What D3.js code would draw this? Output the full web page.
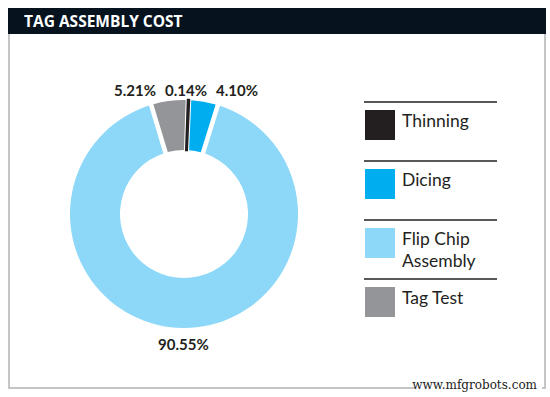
<!DOCTYPE html>
<html lang="en">
<head>
  <meta charset="utf-8" />
  <title>Tag assembly cost</title>
  <style>
    body {
      margin: 0;
      background: #fff;
      font-family: "Lato", sans-serif;
    }
    #graphic svg {
      display: block;
    }
  </style>
</head>
<body>
  <div id="graphic"></div>

  <script src="https://cdn.jsdelivr.net/npm/d3@7/dist/d3.min.js"></script>
  <script>
    // data
    var categories = ["Thinning", "Dicing", "Flip Chip Assembly", "Tag Test"];
    var shares = [0.14, 4.10, 90.55, 5.21];
    var labels = ["0.14%", "4.10%", "90.55%", "5.21%"];
    var colours = ["#231f20", "#00aeef", "#8dd8f8", "#939598"];
    var title = "TAG ASSEMBLY COST";

    var width = 550, height = 397;
    var cx = 184, cy = 214;
    var outer = 114, inner = 64;

    var svg = d3.select("#graphic").append("svg")
      .attr("width", width)
      .attr("height", height);

    // frame and title bar
    svg.append("rect")
      .attr("x", 9).attr("y", 30)
      .attr("width", 536).attr("height", 358)
      .attr("fill", "none")
      .attr("stroke", "#c4c5c7")
      .attr("stroke-width", 2);

    svg.append("rect")
      .attr("x", 8).attr("y", 8)
      .attr("width", 538).attr("height", 26)
      .attr("fill", "#06131f");

    svg.append("text")
      .attr("x", 24).attr("y", 27)
      .attr("fill", "#fff")
      .style("font-family", "'Open Sans', sans-serif")
      .style("font-weight", 700)
      .style("font-size", "15.5px")
      .text(title);

    // donut
    var data = categories.map(function(c, i) {
      return {name: c, value: shares[i], label: labels[i], colour: colours[i]};
    });

    var offset = 0.035;
    var pie = d3.pie()
      .sort(null)
      .value(function(d) { return d.value; })
      .startAngle(offset)
      .endAngle(offset + 2 * Math.PI);

    var arcs = pie(data);

    var arc = d3.arc()
      .innerRadius(inner)
      .outerRadius(outer)
      .padAngle(0.035);

    var plain = d3.arc()
      .innerRadius(inner)
      .outerRadius(outer);

    var g = svg.append("g")
      .attr("transform", "translate(" + cx + "," + cy + ")");

    function tiny(d) { return (d.endAngle - d.startAngle) < 0.05; }

    g.selectAll("path.slice")
      .data(arcs)
      .enter().append("path")
      .attr("class", "slice")
      .attr("fill", function(d) { return d.data.colour; })
      .attr("d", function(d) {
        // slices thinner than the gap get drawn without padding
        return tiny(d) ? plain(d) : arc(d);
      })
      .attr("stroke", function(d) { return tiny(d) ? d.data.colour : "none"; })
      .attr("stroke-width", 2.5);

    // labels: place round the ring, then spread the crowded ones at the top
    var lr = 127;
    var pos = arcs.map(function(d) {
      var a = (d.startAngle + d.endAngle) / 2;
      return {d: d, a: a, x: Math.sin(a) * lr, y: -Math.cos(a) * lr + 3};
    });

    var crowded = pos.filter(function(p) { return Math.cos(p.a) > 0.9; })
      .sort(function(p, q) {
        var pa = p.a > Math.PI ? p.a - 2 * Math.PI : p.a;
        var qa = q.a > Math.PI ? q.a - 2 * Math.PI : q.a;
        return pa - qa;
      });
    var spread = 51;
    var mid = d3.minIndex(crowded, function(p) { return Math.abs(Math.sin(p.a)); });
    crowded.forEach(function(p, i) {
      p.x = 2 + (i - mid) * spread;
      p.y = -lr + 3;
    });

    g.selectAll("text.pct")
      .data(pos)
      .enter().append("text")
      .attr("class", "pct")
      .attr("x", function(p) { return p.x; })
      .attr("y", function(p) { return p.y; })
      .attr("text-anchor", "middle")
      .attr("dominant-baseline", "central")
      .attr("fill", "#231f20")
      .style("font-weight", 700)
      .style("font-size", "15px")
      .text(function(p) { return p.d.data.label; });

    // legend
    var ly = d3.scaleLinear().domain([0, 1]).range([102, 161]);

    var legend = svg.append("g");

    var item = legend.selectAll("g.item")
      .data(data)
      .enter().append("g")
      .attr("class", "item")
      .attr("transform", function(d, i) { return "translate(364," + ly(i) + ")"; });

    item.append("line")
      .attr("x1", 0).attr("x2", 133)
      .attr("stroke", "#231f20")
      .attr("stroke-width", 1.6);

    item.append("rect")
      .attr("x", 1).attr("y", 8)
      .attr("width", 30).attr("height", 30)
      .attr("fill", function(d) { return d.colour; });

    item.append("text")
      .attr("x", 38).attr("y", 25)
      .attr("fill", "#231f20")
      .style("font-size", "17.5px")
      .each(function(d) {
        var t = d3.select(this);
        var words = d.name.split(" ");
        var lines = words.length > 2 ? [words.slice(0, 2).join(" "), words.slice(2).join(" ")] : [d.name];
        lines.forEach(function(l, j) {
          t.append("tspan").attr("x", 38).attr("dy", j ? 22 : 0).text(l);
        });
      });

    // watermark
    svg.append("rect")
      .attr("x", 416).attr("y", 378)
      .attr("width", 126).attr("height", 16)
      .attr("fill", "#fff");

    svg.append("text")
      .attr("x", 537).attr("y", 389)
      .attr("text-anchor", "end")
      .attr("fill", "#222")
      .style("font-family", "'DejaVu Serif', serif")
      .style("font-size", "12px")
      .text("www.mfgrobots.com");
  </script>
</body>
</html>
